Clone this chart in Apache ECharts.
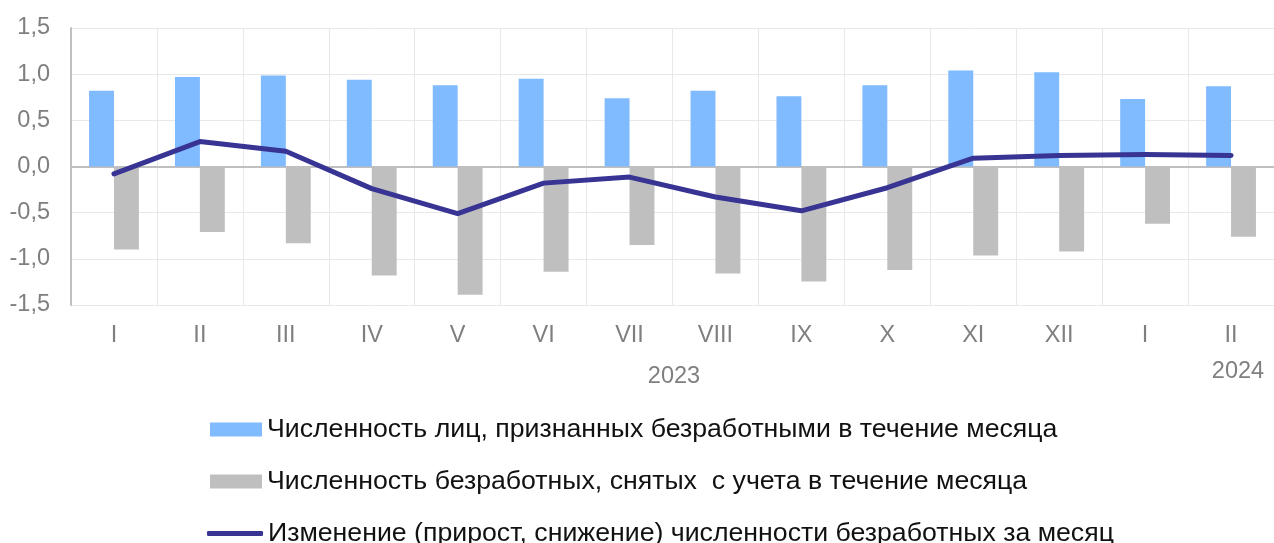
<!DOCTYPE html>
<html>
<head>
    <meta charset="utf-8">
    <title>ECharts</title>
    <script src="https://cdn.jsdelivr.net/npm/echarts@6/dist/echarts.min.js"></script>
    <style>
        html, body { margin: 0; padding: 0; background: #fff; }
        #main { width: 1274px; height: 543px; }
    </style>
</head>
<body>
    <div id="main"></div>
</body>
<script type="text/javascript">
    // месяцы
    var months = ['I', 'II', 'III', 'IV', 'V', 'VI', 'VII', 'VIII', 'IX', 'X', 'XI', 'XII', 'I', 'II'];
    var years = ['2023', '2024'];
    // признаны безработными
    var registered = [0.82, 0.97, 0.985, 0.94, 0.88, 0.95, 0.74, 0.82, 0.76, 0.88, 1.04, 1.02, 0.73, 0.87];
    var removed = [-0.90, -0.71, -0.83, -1.18, -1.39, -1.14, -0.85, -1.16, -1.245, -1.12, -0.965, -0.92, -0.62, -0.76];
    // изменение за месяц
    var change = [-0.08, 0.27, 0.165, -0.24, -0.51, -0.18, -0.115, -0.33, -0.48, -0.23, 0.09, 0.12, 0.13, 0.12];

    var names = [
        'Численность лиц, признанных безработными в течение месяца',
        'Численность безработных, снятых  с учета в течение месяца',
        'Изменение (прирост, снижение) численности безработных за месяц'
    ];

    var font = 'Liberation Sans, Arial, sans-serif';
    var axisFont = 23.5;
    var legendFont = 26.7;

    function legendItem(name, top, left, w, h, icon) {
        return {
            orient: 'vertical',
            left: left,
            top: top,
            padding: 0,
            itemWidth: w,
            itemHeight: h,
            textStyle: { fontSize: legendFont, color: '#111', fontFamily: font },
            data: [{ name: name, icon: icon }]
        };
    }

    var chart = echarts.init(document.getElementById('main'));
    chart.setOption({
        animation: false,
        backgroundColor: '#fff',
        textStyle: { fontFamily: font },
        grid: { left: 71, top: 28, width: 1211, height: 277, containLabel: false },
        legend: [
            legendItem(names[0], 416, 210, 52, 14, 'rect'),
            legendItem(names[1], 468, 210, 52, 14, 'rect'),
            legendItem(names[2], 520, 207, 56, 5, 'roundRect')
        ],
        xAxis: [{
            type: 'category',
            data: months,
            axisLine: { show: false, onZero: false },
            axisTick: { show: false },
            axisLabel: { fontSize: axisFont, color: '#7f7f7f', margin: 19, fontFamily: font },
            splitLine: { show: true, interval: 0, lineStyle: { color: '#e8e8e8', width: 1 } }
        }, {
            type: 'category',
            data: months,
            position: 'bottom',
            axisLine: { show: true, onZero: true, lineStyle: { color: '#bfbfbf', width: 2 } },
            axisTick: { show: false },
            axisLabel: { show: false },
            splitLine: { show: false }
        }],
        yAxis: {
            type: 'value',
            min: -1.5,
            max: 1.5,
            interval: 0.5,
            axisLine: { show: true, lineStyle: { color: '#bfbfbf', width: 2 } },
            axisTick: { show: false },
            axisLabel: {
                fontSize: axisFont,
                color: '#7f7f7f',
                margin: 21,
                fontFamily: font,
                formatter: function (v) { return v.toFixed(1).replace('.', ','); }
            },
            splitLine: { lineStyle: { color: '#e8e8e8', width: 1 } }
        },
        graphic: [{
            type: 'text',
            x: 674,
            y: 377,
            style: { text: years[0], fill: '#7f7f7f', font: axisFont + 'px ' + font, align: 'center', verticalAlign: 'middle' }
        }, {
            type: 'text',
            x: 1238,
            y: 372,
            style: { text: years[1], fill: '#7f7f7f', font: axisFont + 'px ' + font, align: 'center', verticalAlign: 'middle' }
        }],
        series: [{
            name: names[0],
            type: 'bar',
            data: registered,
            barGap: '0%',
            barCategoryGap: '42%',
            itemStyle: { color: '#80baff' }
        }, {
            name: names[1],
            type: 'bar',
            data: removed,
            itemStyle: { color: '#bfbfbf' }
        }, {
            name: names[2],
            type: 'line',
            data: change,
            symbol: 'none',
            z: 5,
            lineStyle: { color: '#373493', width: 5, cap: 'round', join: 'round' },
            itemStyle: { color: '#373493' }
        }]
    });
</script>
</html>
